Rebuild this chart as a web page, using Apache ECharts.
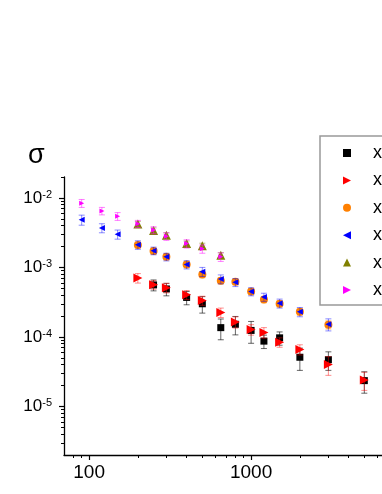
<!DOCTYPE html>
<html>
<head>
<meta charset="utf-8">
<script src="https://cdn.jsdelivr.net/npm/echarts@6/dist/echarts.min.js"></script>
<style>
  html, body { margin: 0; padding: 0; overflow: hidden; background: #fff; }
  #chart { width: 440px; height: 494px; }
</style>
</head>
<body>
<div id="chart"></div>
<script>
// series names (only the leading "x" is visible in the picture)
const seriesNames = ["x = 0", "x = 0.1", "x = 0.2", "x = 0.3", "x = 0.4", "x = 0.5"];

// black squares
const blackX = [250, 300, 400, 500, 650, 800, 1000, 1200, 1500, 2000, 3000, 5000];
const blackY = [5.6e-4, 4.9e-4, 3.7e-4, 3.0e-4, 1.36e-4, 1.52e-4, 1.24e-4, 8.7e-5, 9.7e-5, 5.1e-5, 4.7e-5, 2.35e-5];
const blackErr = [1.0e-4, 1.0e-4, 0.8e-4, 0.8e-4, 0.45e-4, 0.45e-4, 0.43e-4, 1.9e-5, 2.1e-5, 1.8e-5, 1.4e-5, 0.8e-5];

// red right triangles
const redX = [200, 250, 300, 400, 500, 650, 800, 1000, 1200, 1500, 2000, 3000, 5000];
const redY = [7.05e-4, 5.65e-4, 5.1e-4, 4.05e-4, 3.35e-4, 2.25e-4, 1.64e-4, 1.28e-4, 1.16e-4, 8.4e-5, 6.6e-5, 4.0e-5, 2.4e-5];
const redErr = [1.1e-4, 0.8e-4, 0.8e-4, 0.6e-4, 0.5e-4, 0.35e-4, 0.3e-4, 0.22e-4, 0.2e-4, 1.3e-5, 1.1e-5, 1.2e-5, 0.7e-5];

// orange circles
const orangeX = [200, 250, 300, 400, 500, 650, 800, 1000, 1200, 1500, 2000, 3000];
const orangeY = [2.1e-3, 1.72e-3, 1.42e-3, 1.1e-3, 7.9e-4, 6.45e-4, 6.2e-4, 4.5e-4, 3.45e-4, 3.0e-4, 2.3e-4, 1.5e-4];
const orangeErr = [2.1e-4, 1.7e-4, 1.4e-4, 1.1e-4, 0.8e-4, 0.65e-4, 0.6e-4, 0.45e-4, 0.35e-4, 0.3e-4, 0.25e-4, 0.2e-4];

// blue left triangles
const blueX = [90, 120, 150, 200, 250, 300, 400, 500, 650, 800, 1000, 1200, 1500, 2000, 3000];
const blueY = [4.85e-3, 3.7e-3, 3.0e-3, 2.12e-3, 1.74e-3, 1.42e-3, 1.1e-3, 8.7e-4, 6.8e-4, 6.1e-4, 4.5e-4, 3.75e-4, 3.05e-4, 2.3e-4, 1.52e-4];
const blueErr = [0.8e-3, 0.55e-3, 0.45e-3, 0.3e-3, 0.22e-3, 0.18e-3, 0.15e-3, 1.3e-4, 1.0e-4, 0.8e-4, 0.6e-4, 0.5e-4, 0.45e-4, 0.35e-4, 0.3e-4];

// olive up triangles
const oliveX = [200, 250, 300, 400, 500, 650];
const oliveY = [4.2e-3, 3.4e-3, 2.9e-3, 2.2e-3, 2.05e-3, 1.5e-3];
const oliveErr = [0.4e-3, 0.3e-3, 0.25e-3, 0.2e-3, 0.18e-3, 0.13e-3];

// magenta small right triangles
const magentaX = [90, 120, 150, 200, 250, 300, 400, 500, 650];
const magentaY = [8.4e-3, 6.5e-3, 5.45e-3, 4.25e-3, 3.45e-3, 2.8e-3, 2.2e-3, 1.85e-3, 1.42e-3];
const magentaErr = [1.1e-3, 0.8e-3, 0.7e-3, 0.5e-3, 0.4e-3, 0.35e-3, 0.3e-3, 0.25e-3, 0.2e-3];

// axis ticks
const xMajorTicks = [100, 1000];
const xMinorTicks = [80, 90, 200, 300, 400, 500, 600, 700, 800, 900, 2000, 3000, 4000, 5000, 6000, 7000, 8000, 9000];
const yMajorTicks = [1e-5, 1e-4, 1e-3, 1e-2];
const yMinorTicks = [3e-6, 4e-6, 5e-6, 6e-6, 7e-6, 8e-6, 9e-6,
  2e-5, 3e-5, 4e-5, 5e-5, 6e-5, 7e-5, 8e-5, 9e-5,
  2e-4, 3e-4, 4e-4, 5e-4, 6e-4, 7e-4, 8e-4, 9e-4,
  2e-3, 3e-3, 4e-3, 5e-3, 6e-3, 7e-3, 8e-3, 9e-3, 2e-2];

const FONT = "'Liberation Sans', Arial, sans-serif";
const SQUARE = "path://M0,0L10,0L10,10L0,10Z";
const UP_TRI = "path://M5,0L10,10L0,10Z";
const RIGHT_TRI = "path://M0,0L10,5L0,10Z";
const LEFT_TRI = "path://M10,0L0,5L10,10Z";

const groups = [
  { x: blackX, y: blackY, e: blackErr, color: "#000000", bar: "rgba(0,0,0,0.6)", symbol: SQUARE, size: 7 },
  { x: redX, y: redY, e: redErr, color: "#ff0000", bar: "rgba(255,0,0,0.45)", symbol: RIGHT_TRI, size: 9 },
  { x: orangeX, y: orangeY, e: orangeErr, color: "#ff8000", bar: "rgba(255,128,0,0.5)", symbol: "circle", size: 8 },
  { x: blueX, y: blueY, e: blueErr, color: "#0000ff", bar: "rgba(0,0,255,0.45)", symbol: LEFT_TRI, size: 6 },
  { x: oliveX, y: oliveY, e: oliveErr, color: "#808000", bar: "rgba(128,128,0,0.5)", symbol: UP_TRI, size: 9 },
  { x: magentaX, y: magentaY, e: magentaErr, color: "#ff00ff", bar: "rgba(255,0,255,0.5)", symbol: RIGHT_TRI, size: 5 }
];

function errorBarItem(color) {
  return function (params, api) {
    const x = api.value(0);
    const lo = api.coord([x, api.value(1)]);
    const hi = api.coord([x, api.value(2)]);
    const w = 3;
    const style = { stroke: color, lineWidth: 1 };
    return {
      type: "group",
      children: [
        { type: "line", shape: { x1: lo[0], y1: lo[1], x2: hi[0], y2: hi[1] }, style: style },
        { type: "line", shape: { x1: lo[0] - w, y1: lo[1], x2: lo[0] + w, y2: lo[1] }, style: style },
        { type: "line", shape: { x1: hi[0] - w, y1: hi[1], x2: hi[0] + w, y2: hi[1] }, style: style }
      ]
    };
  };
}

const series = [];
groups.forEach(function (g, i) {
  series.push({
    name: "err" + i,
    type: "custom",
    xAxisIndex: 0,
    yAxisIndex: 0,
    renderItem: errorBarItem(g.bar),
    data: g.x.map(function (xv, k) { return [xv, g.y[k] - g.e[k], g.y[k] + g.e[k]]; }),
    z: 2 + i * 2,
    silent: true
  });
  series.push({
    name: seriesNames[i],
    type: "scatter",
    xAxisIndex: 0,
    yAxisIndex: 0,
    symbol: g.symbol,
    symbolSize: g.size,
    itemStyle: { color: g.color, opacity: 1 },
    data: g.x.map(function (xv, k) { return [xv, g.y[k]]; }),
    z: 3 + i * 2
  });
});

const chart = echarts.init(document.getElementById("chart"));

const option = {
  animation: false,
  backgroundColor: "#ffffff",
  title: {
    text: "σ",
    left: 23,
    top: 137,
    textStyle: { fontFamily: FONT, fontSize: 27, fontWeight: "normal", color: "#000" }
  },
  legend: {
    orient: "vertical",
    left: 320,
    top: 136,
    data: seriesNames,
    padding: [7, 20, 5, 23],
    itemWidth: 40,
    itemHeight: 8,
    itemGap: 7.4,
    borderColor: "#999999",
    borderWidth: 1.5,
    textStyle: { fontFamily: FONT, fontSize: 18, color: "#000", lineHeight: 20, padding: [0, 0, 0, 1] }
  },
  grid: { left: 64, right: 52, top: 177, bottom: 39 },
  xAxis: [
    {
      type: "log",
      min: 70,
      max: 7000,
      axisLine: { show: true, lineStyle: { color: "#000", width: 1.3 } },
      axisTick: { show: true, inside: false, length: 5, lineStyle: { color: "#000", width: 1.2 }, customValues: xMajorTicks },
      axisLabel: {
        customValues: xMajorTicks,
        margin: 8,
        fontFamily: FONT,
        fontSize: 19,
        color: "#000",
        formatter: function (v) { return String(Math.round(v)); }
      },
      splitLine: { show: false },
      minorTick: { show: false }
    },
    {
      type: "log",
      min: 70,
      max: 7000,
      position: "bottom",
      axisLine: { show: false },
      axisTick: { show: true, inside: false, length: 3, lineStyle: { color: "#000", width: 1 }, customValues: xMinorTicks },
      axisLabel: { show: false },
      splitLine: { show: false }
    }
  ],
  yAxis: [
    {
      type: "log",
      min: 2e-6,
      max: 2e-2,
      axisLine: { show: true, lineStyle: { color: "#000", width: 1.3 } },
      axisTick: { show: true, inside: false, length: 5, lineStyle: { color: "#000", width: 1.2 }, customValues: yMajorTicks },
      axisLabel: {
        customValues: yMajorTicks,
        margin: 12,
        formatter: function (v) {
          const p = Math.round(Math.log10(v));
          return "{b|10}{s|" + p + "}";
        },
        rich: {
          b: { fontFamily: FONT, fontSize: 17, color: "#000", verticalAlign: "bottom" },
          s: { fontFamily: FONT, fontSize: 11, color: "#000", verticalAlign: "top" }
        }
      },
      splitLine: { show: false }
    },
    {
      type: "log",
      min: 2e-6,
      max: 2e-2,
      position: "left",
      axisLine: { show: false },
      axisTick: { show: true, inside: false, length: 3, lineStyle: { color: "#000", width: 1 }, customValues: yMinorTicks },
      axisLabel: { show: false },
      splitLine: { show: false }
    }
  ],
  series: series
};

chart.setOption(option);
</script>
</body>
</html>
